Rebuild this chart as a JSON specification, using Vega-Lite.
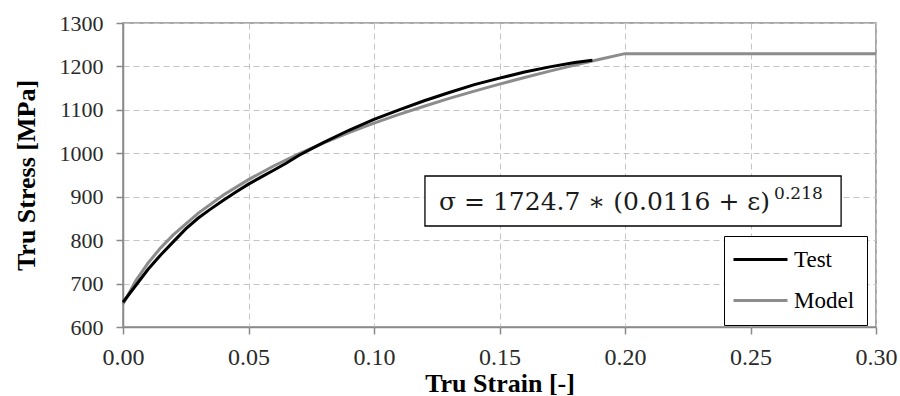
{
  "$schema": "https://vega.github.io/schema/vega-lite/v6.json",
  "width": 753,
  "height": 304,
  "autosize": {"type": "none"},
  "padding": {"left": 123, "top": 23, "right": 24, "bottom": 69},
  "background": "white",
  "config": {
    "font": "Liberation Serif",
    "view": {"stroke": "#8a8a8a", "strokeWidth": 1.5},
    "axis": {
      "domainColor": "#8a8a8a",
      "domainWidth": 1.5,
      "tickColor": "#8a8a8a",
      "tickWidth": 1.5,
      "gridColor": "#c4c4c4",
      "gridDash": [6, 4],
      "gridWidth": 1,
      "labelFont": "Liberation Serif",
      "labelColor": "#2a2a2a",
      "labelFlush": false,
      "labelOverlap": false,
      "titleFont": "Liberation Serif",
      "titleFontWeight": "bold",
      "titleColor": "#000000"
    },
    "legend": {
      "orient": "none",
      "legendX": 601,
      "legendY": 213,
      "strokeColor": "#000000",
      "fillColor": "#ffffff",
      "padding": 12,
      "symbolType": "M-2.7,0H2.7",
      "symbolSize": 400,
      "symbolStrokeWidth": 3,
      "symbolOffset": 13,
      "labelOffset": 22,
      "labelFont": "Liberation Serif",
      "labelFontSize": 23,
      "labelColor": "#000000",
      "rowPadding": 17,
      "title": null
    }
  },
  "datasets": {
    "test": [
      {"strain": 0.000, "stress": 657, "series": "Test"},
      {"strain": 0.005, "stress": 695, "series": "Test"},
      {"strain": 0.010, "stress": 733, "series": "Test"},
      {"strain": 0.015, "stress": 766, "series": "Test"},
      {"strain": 0.020, "stress": 796, "series": "Test"},
      {"strain": 0.025, "stress": 826, "series": "Test"},
      {"strain": 0.030, "stress": 851, "series": "Test"},
      {"strain": 0.035, "stress": 872, "series": "Test"},
      {"strain": 0.040, "stress": 892, "series": "Test"},
      {"strain": 0.045, "stress": 911, "series": "Test"},
      {"strain": 0.050, "stress": 929, "series": "Test"},
      {"strain": 0.055, "stress": 945, "series": "Test"},
      {"strain": 0.060, "stress": 961, "series": "Test"},
      {"strain": 0.065, "stress": 977, "series": "Test"},
      {"strain": 0.070, "stress": 995, "series": "Test"},
      {"strain": 0.075, "stress": 1010, "series": "Test"},
      {"strain": 0.080, "stress": 1025, "series": "Test"},
      {"strain": 0.090, "stress": 1053, "series": "Test"},
      {"strain": 0.100, "stress": 1078, "series": "Test"},
      {"strain": 0.110, "stress": 1100, "series": "Test"},
      {"strain": 0.120, "stress": 1121, "series": "Test"},
      {"strain": 0.130, "stress": 1140, "series": "Test"},
      {"strain": 0.140, "stress": 1158, "series": "Test"},
      {"strain": 0.150, "stress": 1173, "series": "Test"},
      {"strain": 0.160, "stress": 1187, "series": "Test"},
      {"strain": 0.170, "stress": 1199, "series": "Test"},
      {"strain": 0.180, "stress": 1209, "series": "Test"},
      {"strain": 0.187, "stress": 1214, "series": "Test"}
    ],
    "model": [
      {"strain": 0.000, "stress": 652.7, "series": "Model"},
      {"strain": 0.005, "stress": 705.8, "series": "Model"},
      {"strain": 0.010, "stress": 747.5, "series": "Model"},
      {"strain": 0.015, "stress": 782.2, "series": "Model"},
      {"strain": 0.020, "stress": 812.2, "series": "Model"},
      {"strain": 0.030, "stress": 862.3, "series": "Model"},
      {"strain": 0.040, "stress": 903.8, "series": "Model"},
      {"strain": 0.050, "stress": 939.4, "series": "Model"},
      {"strain": 0.060, "stress": 970.7, "series": "Model"},
      {"strain": 0.070, "stress": 998.8, "series": "Model"},
      {"strain": 0.080, "stress": 1024.2, "series": "Model"},
      {"strain": 0.090, "stress": 1047.7, "series": "Model"},
      {"strain": 0.100, "stress": 1069.3, "series": "Model"},
      {"strain": 0.110, "stress": 1089.5, "series": "Model"},
      {"strain": 0.120, "stress": 1108.4, "series": "Model"},
      {"strain": 0.130, "stress": 1126.3, "series": "Model"},
      {"strain": 0.140, "stress": 1143.2, "series": "Model"},
      {"strain": 0.150, "stress": 1159.2, "series": "Model"},
      {"strain": 0.160, "stress": 1174.5, "series": "Model"},
      {"strain": 0.170, "stress": 1189.1, "series": "Model"},
      {"strain": 0.180, "stress": 1203.0, "series": "Model"},
      {"strain": 0.190, "stress": 1216.4, "series": "Model"},
      {"strain": 0.200, "stress": 1229.4, "series": "Model"},
      {"strain": 0.300, "stress": 1229.4, "series": "Model"}
    ],
    "note": [{"label": "σ = 1724.7 ∗ (0.0116 + ε)", "power": "0.218"}]
  },
  "layer": [
    {
      "data": {"name": "model"},
      "mark": {"type": "line", "strokeWidth": 3},
      "encoding": {
        "x": {
          "field": "strain",
          "type": "quantitative",
          "scale": {"domain": [0, 0.3], "nice": false, "zero": false},
          "axis": {
            "values": [0, 0.05, 0.1, 0.15, 0.2, 0.25, 0.3],
            "format": ".2f",
            "title": "Tru Strain [-]",
            "labelFontSize": 24,
            "labelPadding": 11,
            "tickSize": 7,
            "titleFontSize": 26,
            "titlePadding": 1
          }
        },
        "y": {
          "field": "stress",
          "type": "quantitative",
          "scale": {"domain": [600, 1300], "nice": false, "zero": false},
          "axis": {
            "values": [600, 700, 800, 900, 1000, 1100, 1200, 1300],
            "format": "d",
            "title": "Tru Stress [MPa]",
            "labelFontSize": 22,
            "labelPadding": 13,
            "tickSize": 7,
            "titleFontSize": 26,
            "titlePadding": 20
          }
        },
        "color": {
          "field": "series",
          "type": "nominal",
          "scale": {"domain": ["Test", "Model"], "range": ["#000000", "#8c8c8c"]}
        }
      }
    },
    {
      "data": {"name": "test"},
      "mark": {"type": "line", "strokeWidth": 3},
      "encoding": {
        "x": {"field": "strain", "type": "quantitative"},
        "y": {"field": "stress", "type": "quantitative"},
        "color": {"field": "series", "type": "nominal"}
      }
    },
    {
      "data": {"name": "note"},
      "mark": {"type": "rect", "fill": "#ffffff", "stroke": "#000000", "strokeWidth": 1.3},
      "encoding": {
        "x": {"datum": 0.1203, "type": "quantitative"},
        "x2": {"datum": 0.2861},
        "y": {"datum": 947.7, "type": "quantitative"},
        "y2": {"datum": 832.6}
      }
    },
    {
      "data": {"name": "note"},
      "mark": {"type": "text", "font": "DejaVu Serif", "fontSize": 25, "align": "left", "baseline": "alphabetic", "fill": "#1a1a1a"},
      "encoding": {
        "x": {"datum": 0.1259, "type": "quantitative"},
        "y": {"datum": 869.4, "type": "quantitative"},
        "text": {"field": "label"}
      }
    },
    {
      "data": {"name": "note"},
      "mark": {"type": "text", "font": "DejaVu Serif", "fontSize": 17, "align": "left", "baseline": "alphabetic", "fill": "#1a1a1a"},
      "encoding": {
        "x": {"datum": 0.2594, "type": "quantitative"},
        "y": {"datum": 894.7, "type": "quantitative"},
        "text": {"field": "power"}
      }
    }
  ]
}
